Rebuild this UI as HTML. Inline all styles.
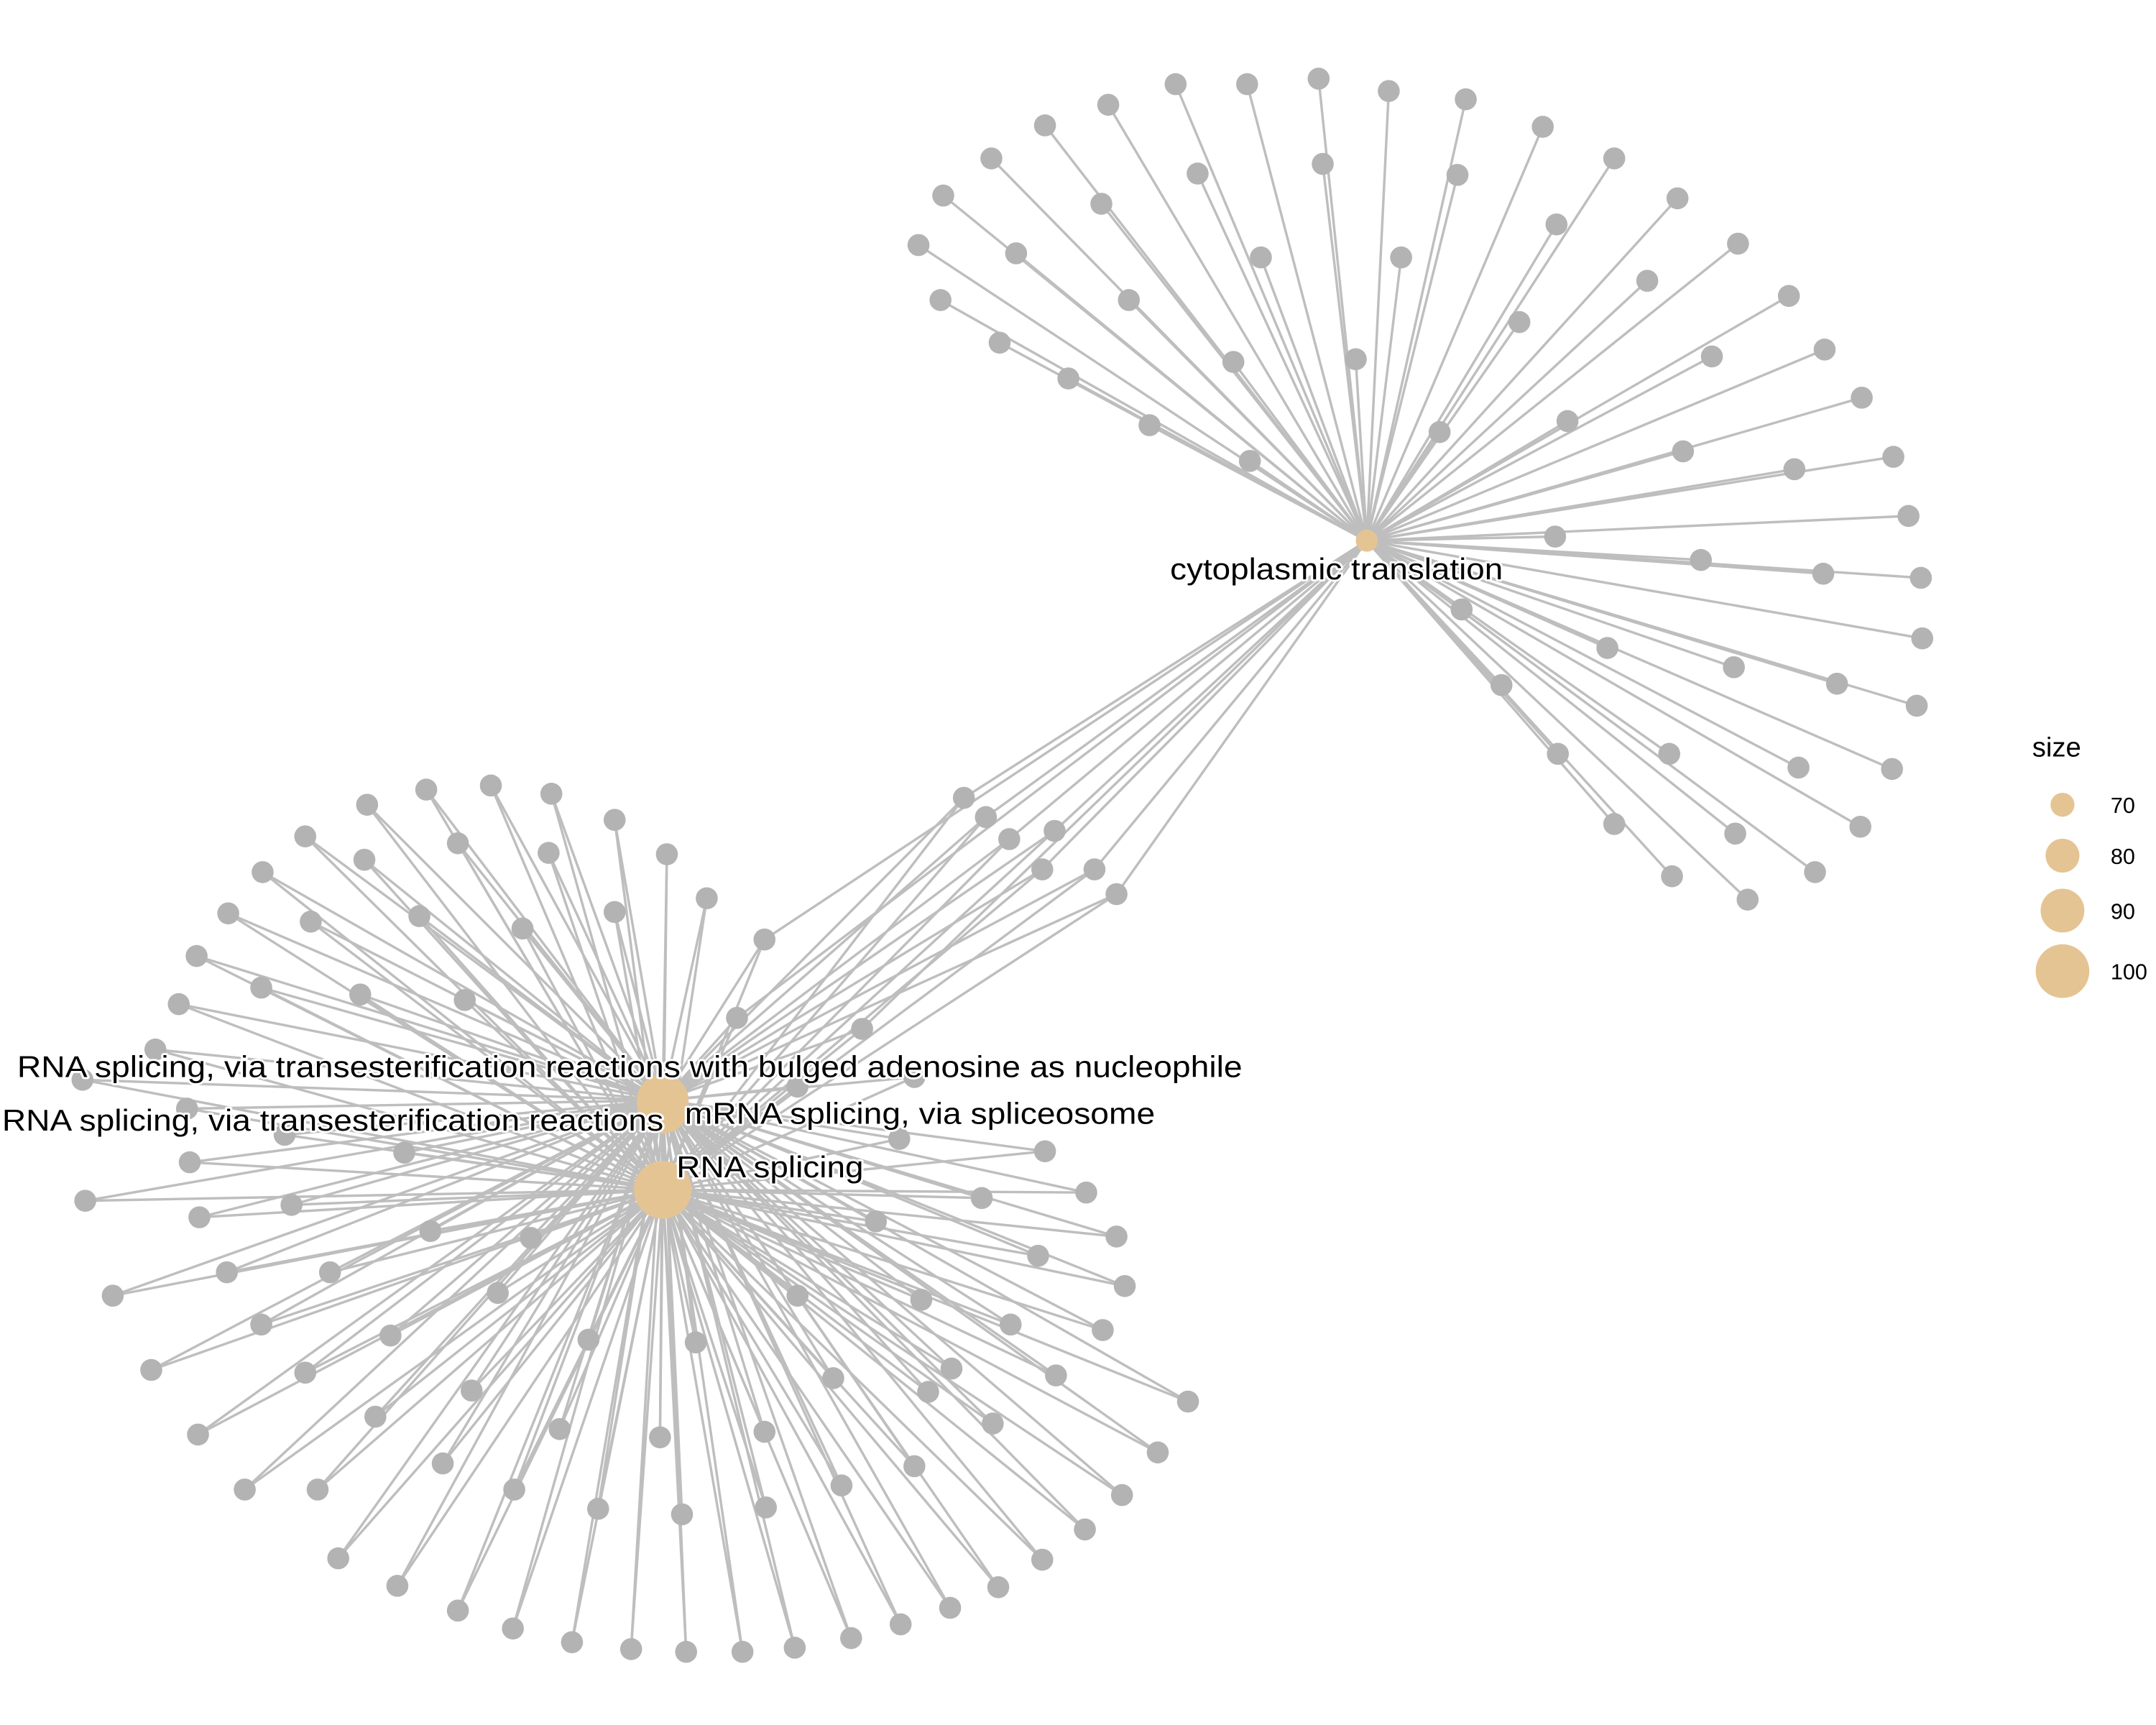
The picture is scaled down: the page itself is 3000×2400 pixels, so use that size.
<!DOCTYPE html>
<html><head><meta charset="utf-8">
<style>
html,body{margin:0;padding:0;background:#fff;}
svg{display:block;}
text{font-family:"Liberation Sans",sans-serif;}
.lab{font-size:22px;fill:#000;stroke:#fff;stroke-width:3px;paint-order:stroke;stroke-linejoin:round;}
</style></head>
<body>
<svg id="chart" width="3000" height="2400" viewBox="0 0 1568 1254" xmlns="http://www.w3.org/2000/svg">
<g id="edges"></g>
<g id="nodes"></g>
<g id="hubs"></g>
<g id="labels"></g>
<g id="legend"></g>
</svg>
<script>
// Category (hub) data
const hubNames = ["cytoplasmic translation","RNA splicing, via transesterification reactions with bulged adenosine as nucleophile","RNA splicing, via transesterification reactions","mRNA splicing, via spliceosome","RNA splicing"];
const hubX = [994,482,482,482,482];
const hubY = [393,800,803,806,865];
const hubSize = [68,98,97,96,104];
const labelX = [972,458,242,669,560];
const labelY = [421,783,822,817,856];
const labelW = [242,891,481,342,136];
// gene nodes in cytoplasmic translation cluster
const cytoX = [855,907,959,1010,1066,1122,1174,1220,1264,1301,1327,1354,1377,1388,1397,1398,1394,1376,1353,1320,1271,1216,1174,1133,1092,1063,1131,1237,1326,1305,1224,1140,1245,1198,1105,1132,1060,1019,962,917,871,806,760,721,686,668,684,727,777,836,909,897,821,739,801,986,1047,1169,1261,1336,1214,1308,1262];
const cytoY = [61,61,57,66,72,92,115,144,177,215,254,289,332,375,420,464,513,559,601,634,654,637,599,548,498,443,390,407,417,341,328,306,259,204,234,163,127,187,119,187,126,76,91,115,142,178,218,249,275,309,335,263,218,184,148,261,314,471,485,497,548,558,606];
// shared genes (both clusters)
const sharedX = [701,717,734,767,758,796,812,627,536,556];
const sharedY = [580,594,610,604,632,632,650,748,740,683];
// splicing cluster genes
const splX = [267,310,357,401,447,485,514,222,333,399,447,191,265,305,380,166,226,143,262,190,130,338,113,60,136,207,294,138,62,145,212,165,82,240,190,313,110,222,284,362,144,273,343,178,231,322,407,428,386,246,289,333,374,435,373,416,459,499,540,578,619,655,691,726,758,789,816,842,864,768,802,818,812,790,760,714,755,735,722,692,670,637,580,606,675,612,665,556,557,496,506,480,654,665,580];
const splY = [585,574,571,577,596,621,653,608,613,620,663,634,625,666,675,664,670,695,723,718,730,727,763,785,806,825,838,845,873,885,876,925,942,925,963,895,996,998,971,940,1043,1030,1011,1083,1083,1064,1039,974,900,1133,1153,1171,1083,1097,1184,1194,1199,1201,1201,1198,1191,1181,1169,1154,1134,1112,1087,1056,1019,1000,967,935,899,867,837,871,913,963,1035,995,945,888,942,1002,1012,1080,1066,1041,1096,1101,976,1045,828,783,790];
// legend
const legendVals = [70,80,90,100];

const NS="http://www.w3.org/2000/svg";
function rOf(s){return 8+(s-68)*0.36;}
function mk(tag,attrs,parent){const e=document.createElementNS(NS,tag);for(const k in attrs)e.setAttribute(k,attrs[k]);parent.appendChild(e);return e;}
const gE=document.getElementById('edges'),gN=document.getElementById('nodes'),gH=document.getElementById('hubs'),gL=document.getElementById('labels'),gG=document.getElementById('legend');
function edge(x1,y1,x2,y2){const l=mk('line',{x1:x1,y1:y1,x2:x2,y2:y2,stroke:'#bebebe','stroke-width':1.8},gE);

}
function node(x,y){const c=mk('circle',{cx:x,cy:y,r:8,fill:'#b3b3b3'},gN);

}
for(let i=0;i<cytoX.length;i++){edge(hubX[0],hubY[0],cytoX[i],cytoY[i]);}
for(let i=0;i<sharedX.length;i++){edge(hubX[0],hubY[0],sharedX[i],sharedY[i]);edge(hubX[1],hubY[1],sharedX[i],sharedY[i]);edge(hubX[4],hubY[4],sharedX[i],sharedY[i]);}
for(let i=0;i<splX.length;i++){edge(hubX[1],hubY[1],splX[i],splY[i]);edge(hubX[4],hubY[4],splX[i],splY[i]);}
for(let i=0;i<cytoX.length;i++)node(cytoX[i],cytoY[i]);
for(let i=0;i<sharedX.length;i++)node(sharedX[i],sharedY[i]);
for(let i=0;i<splX.length;i++)node(splX[i],splY[i]);
for(let i=0;i<hubX.length;i++){const c=mk('circle',{cx:hubX[i],cy:hubY[i],r:rOf(hubSize[i]),fill:'#e5c494'},gH);

}
for(let i=0;i<hubNames.length;i++){const t=mk('text',{x:labelX[i]-labelW[i]/2,y:labelY[i],textLength:labelW[i],lengthAdjust:'spacingAndGlyphs',class:'lab'},gL);t.textContent=hubNames[i];

}
const lt=mk('text',{x:1478,y:550,'font-size':20,fill:'#000'},gG);lt.textContent='size';


const ly=[585,622,662,706];
for(let i=0;i<legendVals.length;i++){const c=mk('circle',{cx:1500,cy:ly[i],r:rOf(legendVals[i]),fill:'#e5c494'},gG);


const t=mk('text',{x:1535,y:ly[i]+6,'font-size':16,fill:'#000'},gG);t.textContent=legendVals[i];

}
</script>
</body></html>
